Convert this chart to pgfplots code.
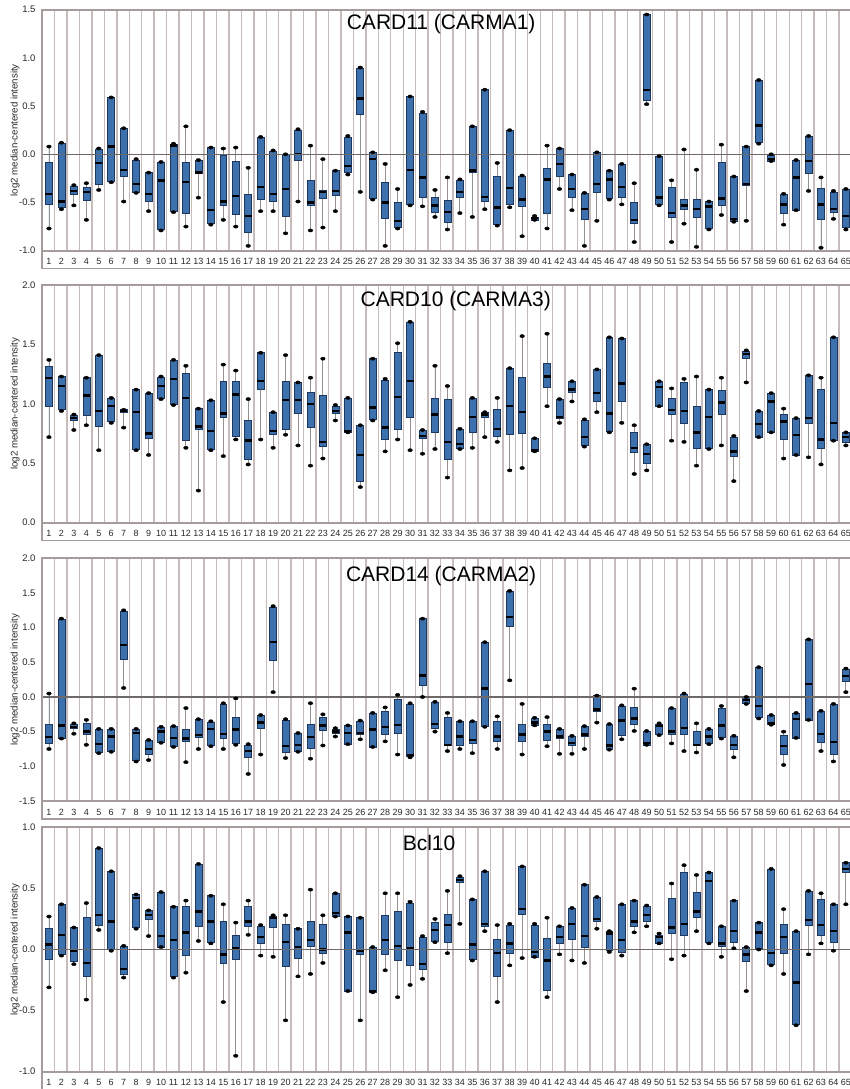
\documentclass[border=0pt]{standalone}
\usepackage{fontspec}
\setmainfont{Liberation Sans}
\usepackage{pgfplots}
\usepackage{pgfplotstable}
\pgfplotsset{compat=1.18}
\usepgfplotslibrary{statistics}

\definecolor{axc}{RGB}{165,155,155}
\definecolor{gridc}{RGB}{198,188,188}
\definecolor{boxfill}{RGB}{60,113,174}
\definecolor{boxdark}{RGB}{30,55,95}
\definecolor{whiskc}{RGB}{150,145,145}
\definecolor{zeroc}{RGB}{110,105,105}
\definecolor{txtc}{RGB}{40,40,40}

% CARD11 (CARMA1)
\pgfplotstableread{
lw q1 med q3 uw
-0.77 -0.52 -0.41 -0.08 0.08
-0.57 -0.55 -0.49 0.11 0.12
-0.53 -0.42 -0.38 -0.33 -0.32
-0.68 -0.48 -0.39 -0.34 -0.30
-0.37 -0.31 -0.09 0.05 0.06
-0.29 -0.28 0.08 0.59 0.59
-0.49 -0.23 -0.16 0.27 0.27
-0.40 -0.39 -0.31 -0.06 -0.05
-0.59 -0.49 -0.41 -0.19 -0.19
-0.79 -0.78 -0.27 -0.08 -0.08
-0.60 -0.59 0.09 0.10 0.11
-0.75 -0.61 -0.29 -0.08 0.29
-0.45 -0.20 -0.19 -0.06 -0.06
-0.73 -0.72 -0.58 0.07 0.07
-0.68 -0.53 -0.49 -0.01 0.06
-0.75 -0.62 -0.43 -0.07 0.07
-0.95 -0.81 -0.64 -0.41 -0.14
-0.59 -0.47 -0.34 0.18 0.18
-0.59 -0.49 -0.41 0.03 0.04
-0.82 -0.64 -0.36 0.00 0.00
-0.49 -0.06 0.00 0.25 0.26
-0.79 -0.53 -0.50 -0.27 0.09
-0.76 -0.46 -0.39 -0.37 -0.05
-0.59 -0.43 -0.38 -0.17 -0.17
-0.21 -0.19 -0.12 0.18 0.19
-0.39 0.41 0.58 0.89 0.90
-0.47 -0.46 -0.05 0.02 0.02
-0.95 -0.66 -0.50 -0.29 -0.10
-0.77 -0.76 -0.69 -0.50 -0.36
-0.53 -0.52 -0.16 0.60 0.60
-0.54 -0.45 -0.24 0.43 0.44
-0.65 -0.60 -0.53 -0.45 -0.37
-0.78 -0.71 -0.60 -0.48 -0.24
-0.61 -0.45 -0.39 -0.27 -0.26
-0.65 -0.19 -0.17 0.29 0.29
-0.57 -0.49 -0.44 0.67 0.67
-0.74 -0.73 -0.55 -0.23 -0.09
-0.55 -0.52 -0.35 0.25 0.25
-0.85 -0.54 -0.47 -0.23 -0.22
-0.68 -0.68 -0.66 -0.65 -0.64
-0.77 -0.61 -0.26 -0.15 0.09
-0.36 -0.23 -0.10 0.06 0.06
-0.58 -0.45 -0.36 -0.21 -0.21
-0.95 -0.67 -0.57 -0.40 -0.40
-0.69 -0.39 -0.31 0.02 0.02
-0.47 -0.46 -0.26 -0.17 -0.17
-0.52 -0.45 -0.34 -0.10 -0.10
-0.91 -0.72 -0.68 -0.50 -0.30
0.52 0.56 0.67 1.45 1.45
-0.53 -0.52 -0.45 -0.02 -0.02
-0.91 -0.65 -0.61 -0.34 -0.27
-0.72 -0.57 -0.53 -0.47 0.05
-0.96 -0.65 -0.57 -0.47 -0.16
-0.78 -0.77 -0.54 -0.49 -0.49
-0.63 -0.53 -0.46 -0.08 0.10
-0.70 -0.69 -0.67 -0.23 -0.23
-0.69 -0.32 -0.31 0.08 0.08
0.11 0.12 0.30 0.77 0.77
-0.07 -0.07 -0.05 -0.01 0.00
-0.73 -0.61 -0.52 -0.42 -0.41
-0.58 -0.58 -0.24 -0.06 -0.06
-0.38 -0.20 -0.07 0.19 0.19
-0.97 -0.67 -0.52 -0.35 -0.24
-0.67 -0.60 -0.57 -0.39 -0.38
-0.78 -0.76 -0.64 -0.36 -0.36
}\tabA

% CARD10 (CARMA3)
\pgfplotstableread{
lw q1 med q3 uw
0.72 0.98 1.22 1.32 1.37
0.94 0.95 1.15 1.23 1.23
0.78 0.86 0.88 0.90 0.91
0.82 0.90 1.07 1.22 1.22
0.61 0.81 0.94 1.41 1.41
0.84 0.85 0.98 1.05 1.05
0.80 0.93 0.94 0.95 0.95
0.61 0.62 0.93 1.12 1.12
0.57 0.71 0.75 1.09 1.09
1.04 1.05 1.15 1.22 1.23
0.99 1.00 1.21 1.37 1.37
0.63 0.69 1.05 1.26 1.32
0.27 0.79 0.81 0.96 0.96
0.61 0.62 0.77 1.03 1.03
0.56 0.89 0.92 1.19 1.33
0.70 0.73 1.08 1.19 1.28
0.49 0.53 0.69 0.86 1.04
0.70 1.12 1.19 1.43 1.43
0.63 0.74 0.77 0.93 0.93
0.74 0.79 1.03 1.19 1.41
0.65 0.92 1.03 1.18 1.18
0.48 0.80 1.00 1.10 1.22
0.54 0.64 0.68 1.07 1.38
0.86 0.92 0.94 0.98 0.99
0.76 0.76 0.77 1.05 1.05
0.30 0.35 0.57 0.82 0.82
0.86 0.87 0.97 1.38 1.38
0.60 0.70 0.80 1.20 1.21
0.70 0.79 1.06 1.43 1.51
0.61 0.89 1.19 1.69 1.69
0.58 0.71 0.73 0.78 0.78
0.62 0.76 0.91 1.05 1.32
0.38 0.53 0.68 1.04 1.15
0.62 0.63 0.66 0.79 0.79
0.63 0.76 0.89 1.05 1.05
0.72 0.89 0.91 0.93 0.93
0.68 0.73 0.79 0.95 1.05
0.44 0.74 0.98 1.30 1.30
0.46 0.75 0.93 1.22 1.57
0.60 0.60 0.61 0.71 0.71
0.98 1.14 1.23 1.34 1.59
0.84 0.88 0.89 1.04 1.04
1.02 1.10 1.12 1.19 1.19
0.64 0.65 0.72 0.86 0.87
0.93 1.02 1.09 1.29 1.29
0.76 0.77 0.92 1.56 1.56
0.84 1.02 1.17 1.55 1.55
0.41 0.59 0.63 0.76 0.82
0.44 0.50 0.58 0.66 0.66
0.98 0.98 1.14 1.19 1.19
0.69 0.91 0.95 1.05 1.13
0.68 0.84 0.94 1.18 1.21
0.48 0.63 0.76 0.98 1.23
0.62 0.63 0.89 1.12 1.12
0.65 0.91 1.01 1.11 1.22
0.35 0.56 0.60 0.72 0.73
1.18 1.38 1.42 1.44 1.45
0.72 0.72 0.83 0.94 0.94
0.76 0.76 1.02 1.09 1.09
0.54 0.70 0.85 0.91 0.96
0.57 0.57 0.74 0.88 0.88
0.55 0.84 0.88 1.24 1.24
0.49 0.63 0.70 1.12 1.22
0.69 0.69 0.84 1.56 1.56
0.65 0.68 0.72 0.76 0.76
}\tabB

% CARD14 (CARMA2)
\pgfplotstableread{
lw q1 med q3 uw
-0.75 -0.67 -0.58 -0.39 0.05
-0.60 -0.59 -0.41 1.12 1.13
-0.53 -0.45 -0.43 -0.39 -0.38
-0.69 -0.54 -0.50 -0.38 -0.33
-0.81 -0.80 -0.68 -0.46 -0.46
-0.79 -0.78 -0.57 -0.46 -0.46
0.13 0.54 0.75 1.24 1.25
-0.93 -0.92 -0.52 -0.46 -0.46
-0.91 -0.83 -0.75 -0.63 -0.62
-0.66 -0.65 -0.50 -0.44 -0.43
-0.72 -0.71 -0.59 -0.42 -0.42
-0.94 -0.64 -0.60 -0.46 -0.16
-0.75 -0.58 -0.55 -0.32 -0.32
-0.71 -0.70 -0.46 -0.36 -0.35
-0.75 -0.59 -0.53 -0.10 -0.09
-0.69 -0.67 -0.47 -0.30 -0.02
-1.11 -0.87 -0.78 -0.69 -0.68
-0.83 -0.45 -0.37 -0.27 -0.26
0.07 0.53 0.79 1.30 1.31
-0.88 -0.80 -0.71 -0.33 -0.32
-0.79 -0.78 -0.69 -0.53 -0.52
-0.89 -0.74 -0.58 -0.40 -0.09
-0.70 -0.48 -0.41 -0.29 -0.25
-0.57 -0.52 -0.50 -0.46 -0.45
-0.68 -0.68 -0.52 -0.41 -0.41
-0.61 -0.54 -0.52 -0.35 -0.34
-0.72 -0.72 -0.47 -0.24 -0.23
-0.64 -0.54 -0.43 -0.21 -0.15
-0.83 -0.53 -0.40 -0.03 0.03
-0.87 -0.86 -0.84 -0.10 -0.09
0.00 0.17 0.31 1.13 1.13
-0.50 -0.45 -0.39 -0.08 -0.07
-0.78 -0.70 -0.69 -0.30 -0.23
-0.75 -0.69 -0.57 -0.35 -0.35
-0.81 -0.67 -0.62 -0.35 -0.35
-0.43 -0.42 0.12 0.79 0.79
-0.75 -0.64 -0.57 -0.35 -0.28
0.24 1.02 1.15 1.52 1.53
-0.83 -0.64 -0.54 -0.40 -0.10
-0.41 -0.41 -0.37 -0.31 -0.30
-0.71 -0.62 -0.50 -0.39 -0.29
-0.82 -0.59 -0.57 -0.46 -0.46
-0.82 -0.69 -0.66 -0.57 -0.56
-0.75 -0.57 -0.54 -0.42 -0.42
-0.37 -0.21 -0.18 0.02 0.02
-0.76 -0.75 -0.70 -0.39 -0.39
-0.61 -0.55 -0.34 -0.13 -0.12
-0.49 -0.39 -0.31 -0.15 0.12
-0.69 -0.69 -0.66 -0.50 -0.49
-0.55 -0.54 -0.42 -0.39 -0.38
-0.67 -0.54 -0.50 -0.16 -0.16
-0.78 -0.54 -0.45 0.04 0.05
-0.80 -0.70 -0.69 -0.50 -0.38
-0.68 -0.67 -0.57 -0.46 -0.46
-0.60 -0.58 -0.41 -0.17 -0.13
-0.87 -0.76 -0.69 -0.57 -0.56
-0.10 -0.09 -0.04 -0.01 0.00
-0.31 -0.30 -0.13 0.43 0.43
-0.40 -0.40 -0.38 -0.27 -0.26
-0.98 -0.83 -0.71 -0.55 -0.50
-0.59 -0.59 -0.32 -0.23 -0.23
-0.33 -0.33 0.19 0.83 0.83
-0.78 -0.66 -0.53 -0.20 -0.20
-0.93 -0.83 -0.65 -0.10 -0.10
0.07 0.23 0.30 0.40 0.41
}\tabC

% Bcl10
\pgfplotstableread{
lw q1 med q3 uw
-0.31 -0.08 0.04 0.17 0.27
-0.05 -0.04 0.12 0.37 0.37
-0.12 -0.10 -0.01 0.18 0.18
-0.41 -0.22 -0.11 0.26 0.38
0.16 0.20 0.28 0.83 0.83
-0.01 0.00 0.23 0.64 0.64
-0.23 -0.20 -0.16 0.03 0.03
0.17 0.18 0.42 0.45 0.45
0.11 0.25 0.28 0.32 0.32
0.02 0.02 0.11 0.47 0.47
-0.23 -0.22 0.08 0.35 0.35
-0.19 -0.05 0.14 0.35 0.40
0.07 0.19 0.31 0.70 0.70
0.05 0.06 0.23 0.44 0.44
-0.43 -0.11 -0.04 0.23 0.37
-0.87 -0.08 0.01 0.12 0.22
0.12 0.19 0.23 0.35 0.40
-0.05 0.05 0.10 0.19 0.20
-0.06 0.18 0.26 0.27 0.28
-0.58 -0.14 0.06 0.21 0.28
-0.22 -0.07 0.02 0.17 0.17
-0.20 0.03 0.08 0.23 0.49
-0.11 -0.03 0.00 0.21 0.28
0.27 0.27 0.30 0.46 0.46
-0.34 -0.34 0.14 0.27 0.27
-0.58 -0.04 -0.01 0.26 0.26
-0.35 -0.35 -0.34 0.02 0.02
-0.17 -0.04 0.08 0.28 0.46
-0.39 -0.09 0.03 0.31 0.46
-0.29 -0.13 0.01 0.38 0.39
-0.24 -0.16 -0.12 0.10 0.11
0.06 0.07 0.16 0.22 0.25
-0.03 0.06 0.20 0.29 0.48
0.21 0.55 0.57 0.59 0.60
-0.09 -0.08 0.04 0.41 0.41
0.15 0.19 0.21 0.64 0.64
-0.43 -0.22 -0.03 0.08 0.20
-0.13 -0.03 0.05 0.20 0.21
-0.07 0.29 0.33 0.68 0.68
-0.06 -0.06 -0.02 0.20 0.21
-0.39 -0.33 -0.09 0.09 0.26
-0.04 0.05 0.10 0.19 0.19
-0.09 0.08 0.21 0.34 0.34
-0.11 0.02 0.11 0.53 0.53
0.17 0.23 0.25 0.43 0.43
-0.02 -0.01 0.13 0.15 0.15
-0.05 -0.02 0.08 0.37 0.37
0.14 0.19 0.23 0.40 0.40
0.19 0.23 0.28 0.35 0.36
0.05 0.05 0.10 0.12 0.13
-0.08 0.13 0.18 0.42 0.54
-0.05 0.12 0.21 0.63 0.69
0.15 0.26 0.31 0.47 0.61
0.05 0.06 0.56 0.63 0.63
-0.06 0.03 0.05 0.19 0.19
0.01 0.06 0.15 0.40 0.40
-0.34 -0.10 -0.04 0.02 0.02
0.00 0.01 0.14 0.22 0.22
-0.13 -0.12 -0.03 0.66 0.66
-0.20 -0.03 0.10 0.21 0.33
-0.62 -0.61 -0.27 0.15 0.15
-0.04 0.20 0.24 0.48 0.48
0.05 0.12 0.20 0.41 0.46
-0.01 0.06 0.15 0.37 0.37
0.37 0.63 0.66 0.71 0.71
}\tabD

\pgfplotsset{
  panel/.style={
    scale only axis, width=808pt,
    xmin=0.44, xmax=65.33,
    xtick={1,...,65},
    minor xtick={1.45,2.45,...,64.45},
    xminorgrids=true,
    minor grid style={draw=gridc, line width=1.4pt},
    major tick length=0pt, minor tick length=0pt,
    axis line style={draw=none},
    tick label style={font=\fontsize{9}{10}\selectfont, text=txtc},
    xticklabel style={anchor=base, yshift=-14pt, /pgf/number format/assume math mode=true},
    ytick distance=0.5,
    yticklabel style={xshift=-3pt, font=\fontsize{9.5}{10}\selectfont,
      /pgf/number format/.cd, fixed, fixed zerofill, precision=1, assume math mode=true},
    ylabel={log2 median-centered intensity},
    every axis y label/.style={at={([xshift=-27pt]axis description cs:0,0.5)}, rotate=90, anchor=center,
      font=\fontsize{9.7}{11}\selectfont, text=txtc},
    boxplot/draw direction=y,
    boxplot/box extend=0.56,
    boxplot/whisker extend=0,
    boxplot/every median/.style={draw=black, line width=2.4pt},
    boxplot/every whisker/.style={draw=whiskc, line width=0.9pt},
    after end axis/.code={
      \draw[axc, line width=1.7pt] (rel axis cs:1,1) -- (rel axis cs:0,1) -- (rel axis cs:0,0) -- (rel axis cs:1,0);
      \draw[axc, line width=1.3pt] (rel axis cs:0,0) -- ([yshift=-18pt]rel axis cs:0,0) -- ([yshift=-18pt]rel axis cs:1,0);
    },
  },
  boxfig/.style={draw=boxdark, fill=boxfill, line width=0.6pt},
  dots/.style={only marks, mark=*, mark size=1.6pt, mark options={fill=black, draw=black, xscale=1.45}, forget plot},
  zline/.style={draw=zeroc, line width=1.4pt, forget plot},
}

\newcommand{\boxes}[1]{%
  \pgfplotsinvokeforeach{0,...,64}{%
    \pgfplotstablegetelem{##1}{lw}\of{#1}\let\bLW\pgfplotsretval
    \pgfplotstablegetelem{##1}{q1}\of{#1}\let\bQA\pgfplotsretval
    \pgfplotstablegetelem{##1}{med}\of{#1}\let\bMD\pgfplotsretval
    \pgfplotstablegetelem{##1}{q3}\of{#1}\let\bQB\pgfplotsretval
    \pgfplotstablegetelem{##1}{uw}\of{#1}\let\bUW\pgfplotsretval
    \edef\doplot{\noexpand\addplot[boxfig, boxplot prepared={draw direction=y, draw position=\the\numexpr##1+1\relax,
      lower whisker=\bLW, lower quartile=\bQA, median=\bMD, upper quartile=\bQB, upper whisker=\bUW}]
      coordinates {};}%
    \doplot
  }%
  \addplot[dots] table[x expr=\coordindex+1, y=uw] {#1};
  \addplot[dots] table[x expr=\coordindex+1, y=lw] {#1};
}

\begin{document}
\begin{tikzpicture}
\path[use as bounding box, fill=white] (0,0) rectangle (850pt,-1089pt);

\begin{axis}[panel, at={(42pt,-9.7pt)}, anchor=north west, height=241pt,
  ymin=-1, ymax=1.5,
  title={CARD11 (CARMA1)},
  title style={at={(axis description cs:0.494,1)}, anchor=base, yshift=-26.3pt, font=\fontsize{21}{24}\selectfont}]
  \boxes{\tabA}
  \addplot[zline] coordinates {(0.44,0) (65.33,0)};
\end{axis}

\begin{axis}[panel, at={(42pt,-285pt)}, anchor=north west, height=237.7pt,
  ymin=0, ymax=2,
  title={CARD10 (CARMA3)},
  title style={at={(axis description cs:0.512,1)}, anchor=base, yshift=-27.7pt, font=\fontsize{21}{24}\selectfont}]
  \boxes{\tabB}
\end{axis}

\begin{axis}[panel, at={(42pt,-558.3pt)}, anchor=north west, height=242.7pt,
  ymin=-1.5, ymax=2,
  title={CARD14 (CARMA2)},
  title style={at={(axis description cs:0.494,1)}, anchor=base, yshift=-29.4pt, font=\fontsize{21}{24}\selectfont}]
  \boxes{\tabC}
  \addplot[zline] coordinates {(0.44,0) (65.33,0)};
\end{axis}

\begin{axis}[panel, at={(42pt,-827.3pt)}, anchor=north west, height=244.4pt,
  ymin=-1, ymax=1,
  title={Bcl10},
  title style={at={(axis description cs:0.479,1)}, anchor=base, yshift=-28.7pt, font=\fontsize{21}{24}\selectfont}]
  \boxes{\tabD}
  \addplot[zline] coordinates {(0.44,0) (65.33,0)};
\end{axis}
\end{tikzpicture}
\end{document}
